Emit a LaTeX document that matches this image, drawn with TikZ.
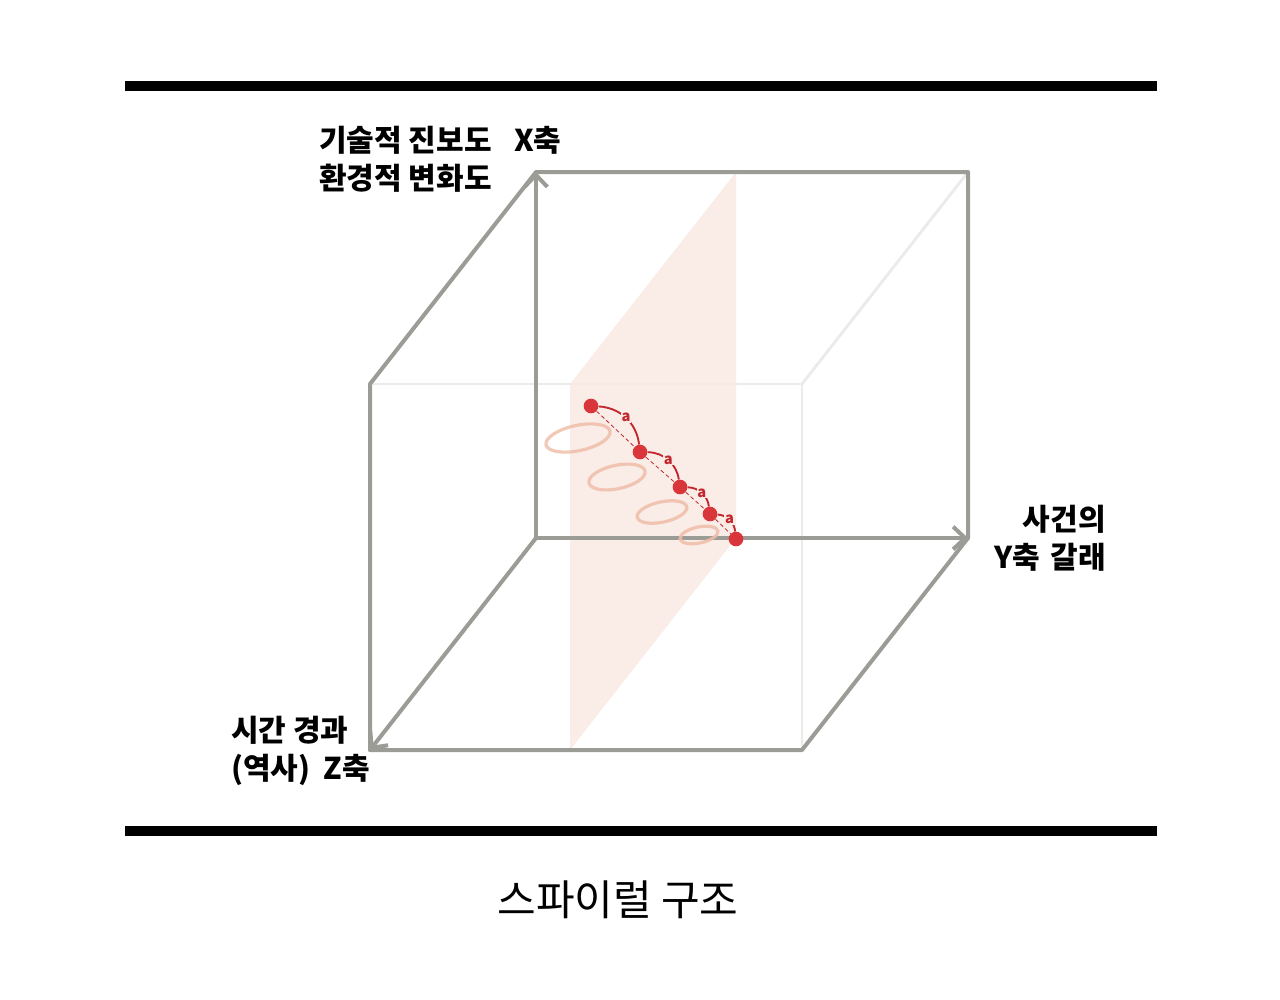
\documentclass[tikz,border=0pt]{standalone}
\usepackage{fontspec}
\setmainfont{Noto Sans CJK KR}
\usetikzlibrary{arrows.meta}

\definecolor{edgegray}{HTML}{9C9C97}
\definecolor{hidgray}{HTML}{EBEBE9}
\definecolor{planepink}{HTML}{F9EAE4}
\definecolor{dotred}{HTML}{D8363A}
\definecolor{arcred}{HTML}{C1272D}
\definecolor{looppink}{HTML}{F0BEAA}

\tikzset{
  cubeedge/.style={draw=edgegray, line width=3pt, line cap=round, line join=round},
  hidden/.style={draw=hidgray, line width=2.2pt},
  axisline/.style={cubeedge, -{Straight Barb[length=9pt,width=17pt]}},
  dot/.style={circle, fill=dotred, inner sep=0pt, minimum size=11pt},
  spiral/.style={draw=looppink, line width=2.4pt, opacity=0.85},
  lab/.style={inner sep=0pt, font=\bfseries\fontsize{22.5}{28.5}\selectfont},
  alab/.style={text=arcred, fill=planepink, inner sep=0.6pt, font=\bfseries\fontsize{11}{11}\selectfont},
}

\begin{document}
\begin{tikzpicture}[x=0.75pt, y=-0.75pt]
    \useasboundingbox (0,0) rectangle (1280,999);

    % corners of the cube
    \coordinate (O) at (536,538);
    \coordinate (X) at (536,172);
    \coordinate (Y) at (968,538);
    \coordinate (Z) at (370,750);
    \coordinate (XY) at (968,172);
    \coordinate (XZ) at (370,384);
    \coordinate (YZ) at (802,750);
    \coordinate (XYZ) at (802,384);

    % top and bottom bars
    \draw[line width=7.5pt] (125,86) -- (1157,86);
    \draw[line width=7.5pt] (125,831) -- (1157,831);

    % hidden edges
    \draw[hidden] (XZ) -- (XYZ) -- (YZ);
    \draw[hidden] (XYZ) -- (XY);

    % plane
    \fill[planepink, opacity=0.9] (570,384) -- (736,172) -- (736,538) -- (570,750) -- cycle;

    % visible edges
    \draw[cubeedge] (Z) -- (XZ) -- (X) -- (XY) -- (Y);
    \draw[cubeedge] (Z) -- (YZ) -- (Y);

    % axes
    \draw[axisline] (O) -- (X);
    \draw[axisline] (O) -- (Y);
    \draw[axisline] (O) -- (Z);

    % spiral loops
    \draw[spiral] (578,438) circle [x radius=24.5pt, y radius=9.5pt, rotate=12];
    \draw[spiral] (617,477) circle [x radius=21.5pt, y radius=8.8pt, rotate=12];
    \draw[spiral] (662,512) circle [x radius=19pt, y radius=7.6pt, rotate=12];
    \draw[spiral] (699,535) circle [x radius=14.5pt, y radius=6pt, rotate=12];

    % points
    \node[dot] (s1) at (591,406) {};
    \node[dot] (s2) at (640,452) {};
    \node[dot] (s3) at (680,487) {};
    \node[dot] (s4) at (710,514) {};
    \node[dot] (s5) at (736,539) {};

    \draw[arcred, densely dashed, line width=0.6pt] (s1) -- (s2) -- (s3) -- (s4) -- (s5);
    \draw[arcred, line width=1.4pt] (s1) to[bend left=40] node[alab] {a} (s2);
    \draw[arcred, line width=1.4pt] (s2) to[bend left=40] node[alab] {a} (s3);
    \draw[arcred, line width=1.4pt] (s3) to[bend left=40] node[alab] {a} (s4);
    \draw[arcred, line width=1.4pt] (s4) to[bend left=40] node[alab] {a} (s5);

    % labels
    \node[lab, align=left, anchor=west] (xlab) at (319,159)
        {기술적 진보도\hspace{0.75em}X축\\환경적 변화도};
    \node[lab, align=right, anchor=east] (ylab) at (1106,538)
        {사건의\\Y축\hspace{0.35em}갈래};
    \node[lab, align=left, anchor=west] (zlab) at (231,751)
        {시간 경과\\(역사)\hspace{0.45em}Z축};

    \node[font=\fontsize{31.5}{31.5}\selectfont] (title) at (618,900) {스파이럴 구조};
\end{tikzpicture}
\end{document}
